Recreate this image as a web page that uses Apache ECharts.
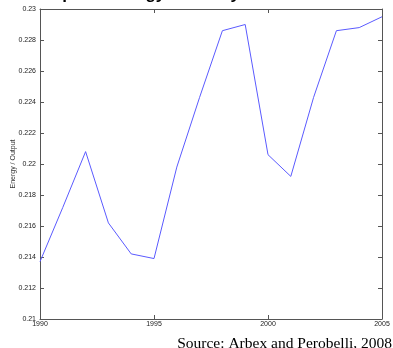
<!DOCTYPE html>
<html>
<head>
<meta charset="utf-8">
<script src="https://cdn.jsdelivr.net/npm/echarts@6/dist/echarts.min.js"></script>
<style>
  html, body { margin: 0; padding: 0; background: #fff; }
  #chart { width: 393px; height: 348px; }
</style>
</head>
<body>
<div id="chart"></div>
<script>
  var years = [1990, 1991, 1992, 1993, 1994, 1995, 1996, 1997, 1998, 1999, 2000, 2001, 2002, 2003, 2004, 2005];
  var energyOutput = [0.2137, 0.2172, 0.2208, 0.2162, 0.2142, 0.2139, 0.2198, 0.2243, 0.2286, 0.2290, 0.2206, 0.2192, 0.2243, 0.2286, 0.2288, 0.2295];

  var chart = echarts.init(document.getElementById('chart'));
  var axisColor = '#555';
  var tickLabel = { color: '#222', fontSize: 7, fontFamily: 'Liberation Sans' };

  var option = {
    animation: false,
    title: [{
      text: 'Graph 1: Energy Intensity',
      left: 28, top: -19,
      textStyle: { fontSize: 17, fontWeight: 'bold', color: '#000', fontFamily: 'Liberation Sans' }
    }, {
      text: 'Source: Arbex and Perobelli, 2008',
      right: -4, top: 331,
      textStyle: { fontSize: 15.5, fontWeight: 'normal', color: '#000', fontFamily: 'Liberation Serif' }
    }],
    grid: { left: 40, right: 11, top: 9, bottom: 29, outerBoundsMode: 'none' },
    xAxis: [{
      type: 'value', min: 1990, max: 2005, interval: 5,
      axisLine: { lineStyle: { color: axisColor } },
      axisTick: { inside: true, length: 4, lineStyle: { color: axisColor } },
      axisLabel: Object.assign({ margin: 2, formatter: function (v) { return String(v); } }, tickLabel),
      splitLine: { show: false }
    }, {
      type: 'value', min: 1990, max: 2005, interval: 5, position: 'top',
      axisLine: { show: true, lineStyle: { color: axisColor } },
      axisTick: { inside: true, length: 4, lineStyle: { color: axisColor } },
      axisLabel: { show: false },
      splitLine: { show: false }
    }],
    yAxis: [{
      type: 'value', min: 0.21, max: 0.23, interval: 0.002,
      name: 'Energy / Output', nameLocation: 'middle', nameGap: 23, nameMoveOverlap: false,
      nameTextStyle: { fontSize: 7, color: '#333', fontFamily: 'Liberation Sans' },
      axisLine: { show: true, lineStyle: { color: axisColor } },
      axisTick: { inside: true, length: 4, lineStyle: { color: axisColor } },
      axisLabel: Object.assign({ margin: 4 }, tickLabel),
      splitLine: { show: false }
    }, {
      type: 'value', min: 0.21, max: 0.23, interval: 0.002, position: 'right',
      axisLine: { show: true, lineStyle: { color: axisColor } },
      axisTick: { inside: true, length: 4, lineStyle: { color: axisColor } },
      axisLabel: { show: false },
      splitLine: { show: false }
    }],
    series: [{
      type: 'line',
      data: years.map(function (y, i) { return [y, energyOutput[i]]; }),
      showSymbol: false,
      lineStyle: { color: '#5a5aff', width: 1 },
      clip: true
    }]
  };
  chart.setOption(option);
</script>
</body>
</html>
